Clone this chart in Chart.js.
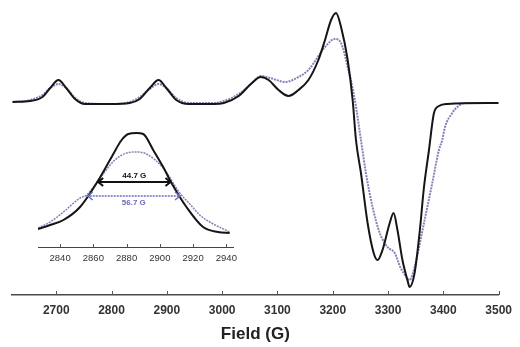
<!DOCTYPE html>
<html>
<head>
<meta charset="utf-8">
<script src="https://cdn.jsdelivr.net/npm/chart.js@4.4.0/dist/chart.umd.min.js"></script>
<style>
body{margin:0;background:#fff;}
#wrap{position:relative;width:520px;height:347px;}
#main{display:block;}
#inset{position:absolute;left:0;top:120px;}
</style>
</head>
<body>
<div id="wrap">
<canvas id="main" width="520" height="347"></canvas>
<canvas id="inset" width="250" height="150"></canvas>
</div>
<script>
// tick labels
var fieldTicks = [2700, 2800, 2900, 3000, 3100, 3200, 3300, 3400, 3500];
var insetTicks = [2840, 2860, 2880, 2900, 2920, 2940];

// black spectrum (field in G, signal in arb. units)
var fieldA = [2621, 2653, 2675, 2689, 2704, 2718, 2734, 2752, 2797, 2833, 2851, 2869, 2885, 2899, 2917, 2940,
  2985, 3003, 3030, 3052, 3070, 3084, 3102, 3120, 3138, 3156, 3174, 3186, 3197, 3206, 3215, 3227, 3236, 3242,
  3251, 3263, 3274, 3281, 3290, 3303, 3310, 3317, 3326, 3335, 3339, 3348, 3357, 3365, 3374, 3383, 3392, 3407, 3500];
var signalA = [1, 2, 6, 15, 23, 15, 4, -1, -1, 0, 4, 15, 23, 15, 3, -1,
  -1, 0, 7, 19, 26, 23, 13, 7, 13, 23, 43, 63, 83, 90, 76, 43, 3, -37,
  -70, -120, -150, -157, -147, -120, -110, -127, -157, -177, -184, -170, -130, -84, -47, -10, -3, -1, 0];

// purple spectrum
var fieldB = [2621, 2653, 2675, 2689, 2704, 2718, 2734, 2752, 2797, 2833, 2851, 2869, 2885, 2899, 2917, 2940,
  2985, 3003, 3030, 3052, 3070, 3087, 3114, 3138, 3156, 3186, 3204, 3215, 3227, 3240, 3251, 3260, 3272,
  3285, 3299, 3312, 3322, 3333, 3339, 3348, 3365, 3380, 3392, 3398, 3403, 3416, 3425, 3439, 3500];
var signalB = [1, 3, 8, 15, 19, 15, 5, 0, -1, 1, 6, 14, 19, 15, 5, 0,
  0, 2, 9, 19, 27, 25, 21, 26, 33, 56, 64, 60, 36, 3, -37, -70, -104,
  -130, -144, -150, -164, -174, -177, -164, -120, -80, -47, -37, -24, -10, -4, 0, 0];

// inset: zoom on the 2885 G line
var insetFieldA = [2826.7, 2834, 2842, 2852, 2862, 2871, 2877, 2881, 2886, 2890, 2896, 2902, 2907, 2916, 2926, 2935, 2942];
var insetSignalA = [18, 22, 27, 40, 64, 90, 107, 113, 114, 113, 97, 80, 64, 40, 20, 15, 14];
var insetFieldB = [2826.7, 2834, 2842, 2852, 2856, 2864, 2873, 2880, 2886, 2892, 2902, 2912, 2918, 2924, 2930, 2942];
var insetSignalB = [19, 25, 35, 49, 52, 69, 87, 94, 95, 93, 79, 54, 43, 32, 25, 15];

// line widths
var widthA = [2862.3, 2907.0];
var widthB = [2856.0, 2912.7];

var FONT = 'Liberation Sans, Arial, sans-serif';

function pts(xs, ys) {
  return xs.map(function (x, i) { return { x: x, y: ys[i] }; });
}

// small tick marks pointing up from the x axis
var innerTicks = {
  id: 'innerTicks',
  afterDraw: function (chart, args, opts) {
    var sx = chart.scales.x, ctx = chart.ctx;
    var y0 = chart.chartArea.bottom;
    ctx.save();
    ctx.strokeStyle = opts.color;
    ctx.lineWidth = 1;
    sx.ticks.forEach(function (t) {
      var px = Math.round(sx.getPixelForValue(t.value)) + 0.5;
      ctx.beginPath();
      ctx.moveTo(px, y0);
      ctx.lineTo(px, y0 - opts.length);
      ctx.stroke();
    });
    ctx.restore();
  }
};

// double arrows with the width labels in the inset
var widthArrows = {
  id: 'widthArrows',
  afterDraw: function (chart, args, opts) {
    var sx = chart.scales.x, sy = chart.scales.y, ctx = chart.ctx;
    opts.items.forEach(function (it) {
      var x1 = sx.getPixelForValue(it.range[0]);
      var x2 = sx.getPixelForValue(it.range[1]);
      var y = sy.getPixelForValue(it.level);
      ctx.save();
      ctx.strokeStyle = it.color;
      ctx.lineWidth = it.width;
      ctx.setLineDash(it.dash);
      ctx.beginPath();
      ctx.moveTo(x1, y);
      ctx.lineTo(x2, y);
      ctx.stroke();
      ctx.setLineDash([]);
      ctx.beginPath();
      ctx.moveTo(x1 + 6, y - 4); ctx.lineTo(x1 + 1, y); ctx.lineTo(x1 + 6, y + 4);
      ctx.moveTo(x2 - 6, y - 4); ctx.lineTo(x2 - 1, y); ctx.lineTo(x2 - 6, y + 4);
      ctx.stroke();
      ctx.fillStyle = it.color;
      ctx.font = 'bold 8px ' + FONT;
      ctx.textAlign = 'center';
      ctx.textBaseline = 'middle';
      ctx.fillText(it.text, (x1 + x2) / 2, sy.getPixelForValue(it.textLevel));
      ctx.restore();
    });
  }
};

new Chart(document.getElementById('main').getContext('2d'), {
  type: 'line',
  data: {
    datasets: [
      { data: pts(fieldA, signalA), borderColor: '#151515', borderWidth: 2, pointRadius: 0, cubicInterpolationMode: 'monotone' },
      { data: pts(fieldB, signalB), borderColor: '#8a7eb6', borderWidth: 2, borderDash: [2, 1], pointRadius: 0, cubicInterpolationMode: 'monotone' }
    ]
  },
  options: {
    responsive: false,
    animation: false,
    events: [],
    layout: { padding: { left: 12, right: 18, top: 0, bottom: 0 } },
    plugins: {
      legend: { display: false },
      tooltip: { enabled: false },
      innerTicks: { color: '#555', length: 4 }
    },
    scales: {
      x: {
        type: 'linear', min: 2620, max: 3500,
        afterBuildTicks: function (s) { s.ticks = fieldTicks.map(function (v) { return { value: v }; }); },
        afterFit: function (s) { s.height = 52; },
        grid: { display: false, drawTicks: false },
        border: { display: true, color: '#4a4a4a', width: 1.5 },
        ticks: {
          padding: 8, color: '#333', autoSkip: false, maxRotation: 0,
          font: { family: FONT, size: 12, weight: 'bold' },
          callback: function (v) { return String(v); }
        },
        title: {
          display: true, text: 'Field (G)', color: '#222',
          font: { family: FONT, size: 17, weight: 'bold' },
          padding: { top: 0, bottom: 2 }
        }
      },
      y: { display: false, min: -192, max: 103 }
    }
  },
  plugins: [innerTicks]
});

new Chart(document.getElementById('inset').getContext('2d'), {
  type: 'line',
  data: {
    datasets: [
      { data: pts(insetFieldA, insetSignalA), borderColor: '#151515', borderWidth: 2, pointRadius: 0, cubicInterpolationMode: 'monotone' },
      { data: pts(insetFieldB, insetSignalB), borderColor: '#8a7eb6', borderWidth: 1.5, borderDash: [2, 1], pointRadius: 0, cubicInterpolationMode: 'monotone' }
    ]
  },
  options: {
    responsive: false,
    animation: false,
    events: [],
    layout: { padding: { left: 38, right: 17, top: 0, bottom: 0 } },
    plugins: {
      legend: { display: false },
      tooltip: { enabled: false },
      innerTicks: { color: '#555', length: 3 },
      widthArrows: {
        items: [
          { range: widthA, level: 65, textLevel: 71, text: '44.7 G', color: '#111', width: 2, dash: [] },
          { range: widthB, level: 51, textLevel: 44, text: '56.7 G', color: '#6a6cc0', width: 1.5, dash: [2, 1] }
        ]
      }
    },
    scales: {
      x: {
        type: 'linear', min: 2826.7, max: 2944,
        afterBuildTicks: function (s) { s.ticks = insetTicks.map(function (v) { return { value: v }; }); },
        afterFit: function (s) { s.height = 23; },
        grid: { display: false, drawTicks: false },
        border: { display: true, color: '#444', width: 1 },
        ticks: {
          padding: 6, color: '#333', autoSkip: false, maxRotation: 0,
          font: { family: FONT, size: 9.5 },
          callback: function (v) { return String(v); }
        }
      },
      y: { display: false, min: 0, max: 127 }
    }
  },
  plugins: [innerTicks, widthArrows]
});
</script>
</body>
</html>
